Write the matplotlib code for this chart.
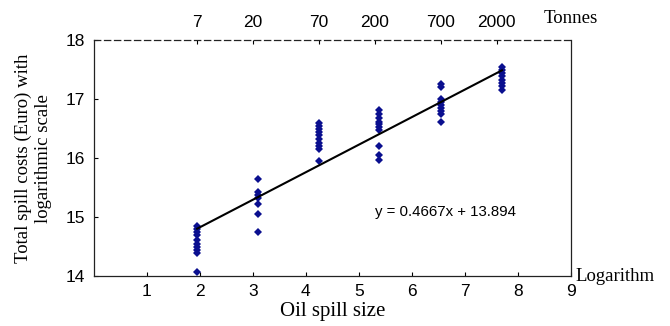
import numpy as np
import matplotlib
matplotlib.use('Agg')
import matplotlib.pyplot as plt

# 油量 (log of tonnes) and costs
col_x = [1.95, 3.09, 4.25, 5.39, 6.55, 7.70]
col_y = [
    [14.85, 14.80, 14.75, 14.70, 14.62, 14.55, 14.50, 14.45, 14.40, 14.07],
    [15.65, 15.42, 15.38, 15.33, 15.22, 15.05, 14.75],
    [16.60, 16.55, 16.50, 16.45, 16.40, 16.32, 16.25, 16.20, 16.15, 15.95],
    [16.82, 16.75, 16.68, 16.62, 16.57, 16.52, 16.47, 16.20, 16.05, 15.97],
    [17.25, 17.20, 17.00, 16.95, 16.90, 16.85, 16.80, 16.75, 16.62],
    [17.55, 17.50, 17.45, 17.40, 17.32, 17.27, 17.22, 17.15],
]
slope, intercept = 0.4667, 13.894
tonnes = [7, 20, 70, 200, 700, 2000]
x_ticks = [1, 2, 3, 4, 5, 6, 7, 8, 9]
y_ticks = [14, 15, 16, 17, 18]

serif = 'Liberation Serif'
sans = 'Liberation Sans'

fig = plt.figure(figsize=(6.7, 3.26), dpi=100)
ax = fig.add_axes([0.140, 0.153, 0.712, 0.724])

for x, ys in zip(col_x, col_y):
    ax.plot([x] * len(ys), ys, 'D', color='#0a0f8f', markersize=4, markeredgewidth=0)

xl = np.array([col_x[0], col_x[-1]])
ax.plot(xl, slope * xl + intercept, color='black', linewidth=1.5)

ax.set_xlim(0, 9)
ax.set_ylim(14, 18)
ax.set_xticks(x_ticks)
ax.set_yticks(y_ticks)
ax.tick_params(direction='in', length=3, labelsize=12.5, width=0.8, pad=6)
for lab in ax.get_xticklabels() + ax.get_yticklabels():
    lab.set_family(sans)

ax.spines['top'].set_visible(False)
for s in ['left', 'bottom', 'right']:
    ax.spines[s].set_color('#222222')
    ax.spines[s].set_linewidth(0.9)

# top axis in tonnes
ax2 = ax.twiny()
ax2.set_xlim(0, 9)
ax2.set_xticks(np.log(tonnes))
ax2.set_xticklabels([str(t) for t in tonnes], family=sans, fontsize=12.5)
ax2.tick_params(direction='in', length=3, width=0.8, pad=7)
for s in ['left', 'bottom', 'right']:
    ax2.spines[s].set_visible(False)
ax2.spines['top'].set_linestyle((0, (5, 3)))
ax2.spines['top'].set_linewidth(0.9)
ax2.spines['top'].set_color('#222222')

ax.text(1.0, 1.055, 'Tonnes', transform=ax.transAxes, family=serif, fontsize=13.5,
        ha='center', va='bottom')
ax.text(1.01, 0.0, 'Logarithm', transform=ax.transAxes, family=serif, fontsize=13.5,
        ha='left', va='center')
ax.text(5.3, 15.08, 'y = 0.4667x + 13.894', family=sans, fontsize=10.8, ha='left', va='center')

ax.set_xlabel('Oil spill size', family=serif, fontsize=15, labelpad=2)
ax.set_ylabel('Total spill costs (Euro) with\nlogarithmic scale', family=serif, fontsize=13.5,
              labelpad=10)

fig.savefig('out.png', dpi=100)
